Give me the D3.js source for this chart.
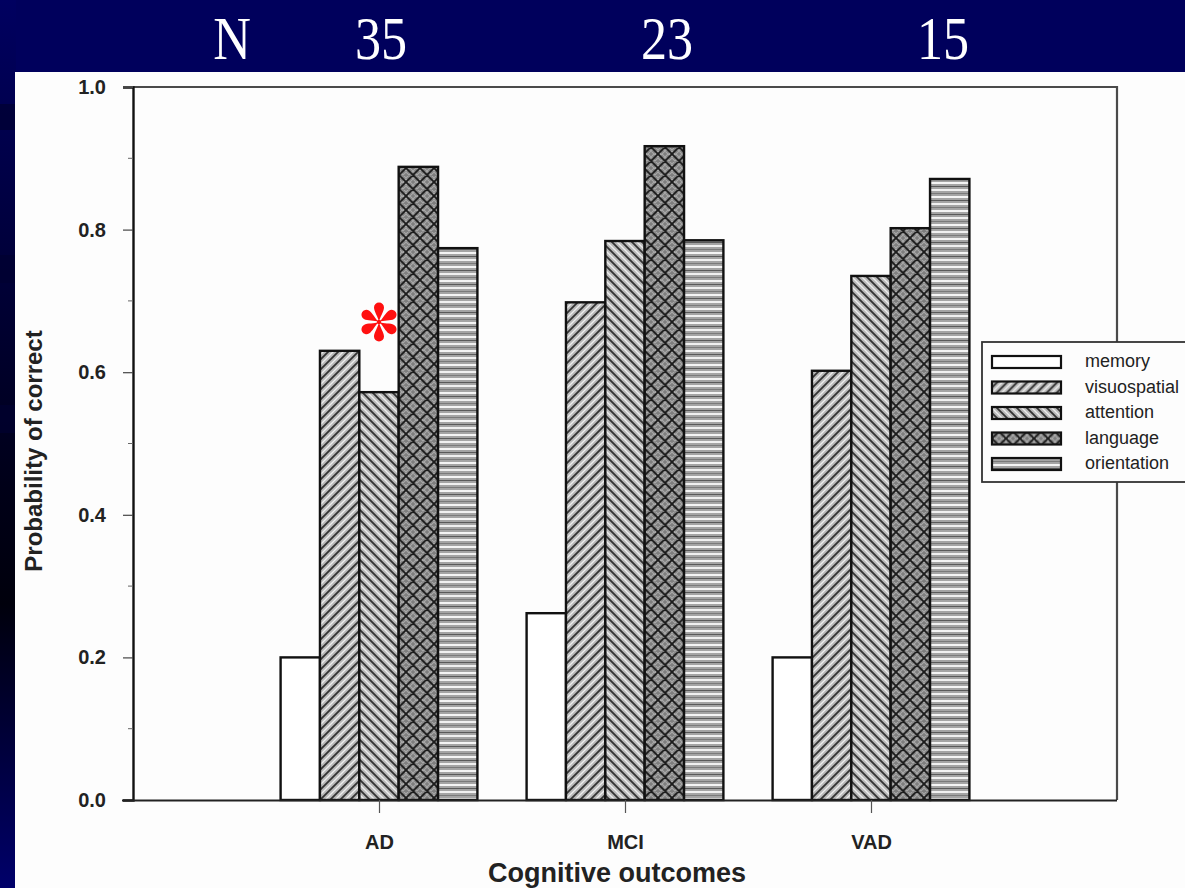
<!DOCTYPE html>
<html>
<head>
<meta charset="utf-8">
<script src="https://cdn.jsdelivr.net/npm/d3@7"></script>
<style>
  html, body { margin: 0; padding: 0; background: #00005c; }
  svg { display: block; }
</style>
</head>
<body>
<div id="chart"></div>
<script>
// groups on the x axis and the five cognitive domains (one bar each)
const categories = ['AD', 'MCI', 'VAD'];
const domains = ['memory', 'visuospatial', 'attention', 'language', 'orientation'];
const legendLabels = ['memory', 'visuospatial', 'attention', 'language', 'orientation'];

// probability of correct, per group, per domain
const memory       = [0.20, 0.262, 0.20];
const visuospatial = [0.630, 0.698, 0.602];
const attention    = [0.572, 0.784, 0.735];
const language     = [0.888, 0.917, 0.802];
const orientation  = [0.774, 0.785, 0.871];

// sample sizes shown across the top of the slide
const nLabels = ['N', '35', '23', '15'];
const nLabelX = [232, 381, 667, 943];

const yTicks = [0, 0.2, 0.4, 0.6, 0.8, 1.0];

const width = 1185, height = 888;
const margin = { left: 133, right: 1117, top: 87, bottom: 800 };

const seriesByDomain = { memory, visuospatial, attention, language, orientation };

const svg = d3.select('#chart').append('svg')
  .attr('width', width)
  .attr('height', height);

const defs = svg.append('defs');

// slide background: navy band on top and a left strip with a dark gradient
const grad = defs.append('linearGradient')
  .attr('id', 'leftStrip').attr('x1', 0).attr('y1', 0).attr('x2', 0).attr('y2', 1);
grad.append('stop').attr('offset', '0%').attr('stop-color', '#000060');
grad.append('stop').attr('offset', '55%').attr('stop-color', '#000018');
grad.append('stop').attr('offset', '68%').attr('stop-color', '#00000c');
grad.append('stop').attr('offset', '100%').attr('stop-color', '#00006a');

svg.append('rect').attr('width', width).attr('height', height).attr('fill', '#00005c');
svg.append('rect').attr('x', 0).attr('y', 0).attr('width', 16).attr('height', height)
  .attr('fill', 'url(#leftStrip)');
// faint darker shadows on the strip
[[104, 26], [255, 28], [405, 28]].forEach(([y, h]) => {
  svg.append('rect').attr('x', 0).attr('y', y).attr('width', 16).attr('height', h)
    .attr('fill', '#000030').attr('opacity', 0.7);
});
svg.append('rect').attr('x', 15).attr('y', 72).attr('width', width - 15).attr('height', height - 72)
  .attr('fill', '#fdfdfd');

// N labels
svg.append('g').selectAll('text')
  .data(nLabels)
  .join('text')
  .attr('transform', (d, i) => `translate(${nLabelX[i]},59) scale(0.9,1.05)`)
  .attr('text-anchor', 'middle')
  .style('font', '58px "Liberation Serif", "Times New Roman", serif')
  .attr('fill', '#ffffff')
  .text(d => d);

// hatch patterns imitating the scanned print
function hatch(id, size, base, draw) {
  const p = defs.append('pattern')
    .attr('id', id)
    .attr('patternUnits', 'userSpaceOnUse')
    .attr('width', size).attr('height', size);
  p.append('rect').attr('width', size).attr('height', size).attr('fill', base);
  draw(p);
}

hatch('p-visuo', 10, '#b8b8b8', p => {
  p.append('path').attr('d', 'M-2,12 L12,-2 M-2,2 L2,-2 M8,12 L12,8')
    .attr('stroke', '#333').attr('stroke-width', 1.8);
  p.append('path').attr('d', 'M-2,7 L7,-2 M3,12 L12,3')
    .attr('stroke', '#ececec').attr('stroke-width', 1.4);
});
hatch('p-attn', 10, '#b8b8b8', p => {
  p.append('path').attr('d', 'M-2,-2 L12,12 M8,-2 L12,2 M-2,8 L2,12')
    .attr('stroke', '#333').attr('stroke-width', 1.8);
  p.append('path').attr('d', 'M3,-2 L12,7 M-2,3 L7,12')
    .attr('stroke', '#ececec').attr('stroke-width', 1.4);
});
hatch('p-lang', 14, '#7e7e7e', p => {
  p.append('path').attr('d', 'M-2,5 L5,-2 M-2,12 L12,-2 M2,16 L16,2 M9,16 L16,9 M-2,9 L5,16 M-2,2 L12,16 M2,-2 L16,12 M9,-2 L16,5')
    .attr('stroke', '#a8a8a8').attr('stroke-width', 1.1);
  p.append('path').attr('d', 'M-2,-2 L16,16 M-2,16 L16,-2 M-2,12 L2,16 M12,-2 L16,2 M-2,2 L2,-2 M12,16 L16,12')
    .attr('stroke', '#1c1c1c').attr('stroke-width', 1.7);
});
hatch('p-orient', 14, '#a4a4a4', p => {
  p.append('rect').attr('x', 0).attr('y', 0).attr('width', 14).attr('height', 2).attr('fill', '#f4f4f4');
  p.append('rect').attr('x', 0).attr('y', 7).attr('width', 14).attr('height', 2).attr('fill', '#f0f0f0');
  p.append('rect').attr('x', 0).attr('y', 4).attr('width', 14).attr('height', 1).attr('fill', '#5a5a5a');
  p.append('rect').attr('x', 0).attr('y', 11).attr('width', 14).attr('height', 1).attr('fill', '#7a7a7a');
});

const fills = {
  memory: '#ffffff',
  visuospatial: 'url(#p-visuo)',
  attention: 'url(#p-attn)',
  language: 'url(#p-lang)',
  orientation: 'url(#p-orient)'
};

// scales
const x = d3.scalePoint()
  .domain(categories)
  .range([margin.left, margin.right])
  .padding(1);

const groupWidth = x.step() * 0.8;
const xInner = d3.scaleBand()
  .domain(domains)
  .range([-groupWidth / 2, groupWidth / 2]);

const y = d3.scaleLinear()
  .domain([0, 1])
  .range([margin.bottom, margin.top]);

// top and right frame
svg.append('path')
  .attr('d', `M${margin.left},${y(1)} H${margin.right} V${y(0)}`)
  .attr('fill', 'none')
  .attr('stroke', '#4a4a4a')
  .attr('stroke-width', 2.2);

// bars
const barData = [];
categories.forEach((c, i) => {
  domains.forEach(d => barData.push({ cat: c, dom: d, value: seriesByDomain[d][i] }));
});

svg.append('g').selectAll('rect')
  .data(barData)
  .join('rect')
  .attr('x', d => x(d.cat) + xInner(d.dom))
  .attr('y', d => y(d.value))
  .attr('width', xInner.bandwidth())
  .attr('height', d => y(0) - y(d.value))
  .attr('fill', d => fills[d.dom])
  .attr('stroke', '#111')
  .attr('stroke-width', 2.4);

// y axis with minor ticks
const yAxis = svg.append('g')
  .attr('transform', `translate(${margin.left},0)`)
  .call(d3.axisLeft(y).tickValues(yTicks).tickFormat(d3.format('.1f')).tickSize(10).tickPadding(17));
yAxis.select('.domain').attr('stroke', '#111').attr('stroke-width', 2.4);
yAxis.selectAll('.tick line').attr('stroke', '#444').attr('stroke-width', 1.2);
yAxis.selectAll('.tick text')
  .style('font', 'bold 20px "Liberation Sans", Arial, sans-serif')
  .attr('fill', '#222');

svg.append('g').selectAll('line')
  .data(d3.range(0.1, 1, 0.2))
  .join('line')
  .attr('x1', margin.left - 5).attr('x2', margin.left)
  .attr('y1', d => y(d)).attr('y2', d => y(d))
  .attr('stroke', '#666').attr('stroke-width', 1);

// x axis
const xAxis = svg.append('g')
  .attr('transform', `translate(0,${margin.bottom})`)
  .call(d3.axisBottom(x).tickSize(13).tickPadding(22));
xAxis.select('.domain').attr('d', `M${margin.left - 11},0.5H${margin.right}`)
  .attr('stroke', '#222').attr('stroke-width', 2.2);
xAxis.selectAll('.tick line').attr('stroke', '#555').attr('stroke-width', 1.2);
xAxis.selectAll('.tick text')
  .style('font', 'bold 20px "Liberation Sans", Arial, sans-serif')
  .attr('fill', '#222');

// axis titles
svg.append('text')
  .attr('x', 617)
  .attr('y', 882)
  .attr('text-anchor', 'middle')
  .style('font', 'bold 27px "Liberation Sans", Arial, sans-serif')
  .attr('fill', '#222')
  .text('Cognitive outcomes');

svg.append('text')
  .attr('transform', 'translate(42,451) rotate(-90)')
  .attr('text-anchor', 'middle')
  .style('font', 'bold 24px "Liberation Sans", Arial, sans-serif')
  .attr('fill', '#222')
  .text('Probability of correct');

// legend
const legend = svg.append('g').attr('transform', 'translate(982,342)');
legend.append('rect')
  .attr('width', 260).attr('height', 140)
  .attr('fill', '#fdfdfd')
  .attr('stroke', '#333').attr('stroke-width', 1.8);
const item = legend.selectAll('g.item')
  .data(legendLabels)
  .join('g')
  .attr('class', 'item')
  .attr('transform', (d, i) => `translate(10,${20 + i * 25.5})`);
item.append('rect')
  .attr('x', 0).attr('y', -6)
  .attr('width', 69).attr('height', 12)
  .attr('fill', (d, i) => fills[domains[i]])
  .attr('stroke', '#111').attr('stroke-width', 2.2);
item.append('text')
  .attr('x', 93).attr('y', 5)
  .style('font', '18px "Liberation Sans", Arial, sans-serif')
  .attr('fill', '#222')
  .text(d => d);

// red asterisk flagging AD attention
const star = svg.append('g').attr('transform', `translate(${x('AD')},322)`);
star.selectAll('path')
  .data(d3.range(6))
  .join('path')
  .attr('d', 'M0,0 C-0.8,-5 -5,-10.5 -5,-14.5 A5,5 0 1 1 5,-14.5 C5,-10.5 0.8,-5 0,0Z')
  .attr('transform', d => `rotate(${d * 60})`)
  .attr('fill', '#ff1010');
star.append('circle').attr('r', 2.2).attr('fill', '#ff1010');
</script>
</body>
</html>
